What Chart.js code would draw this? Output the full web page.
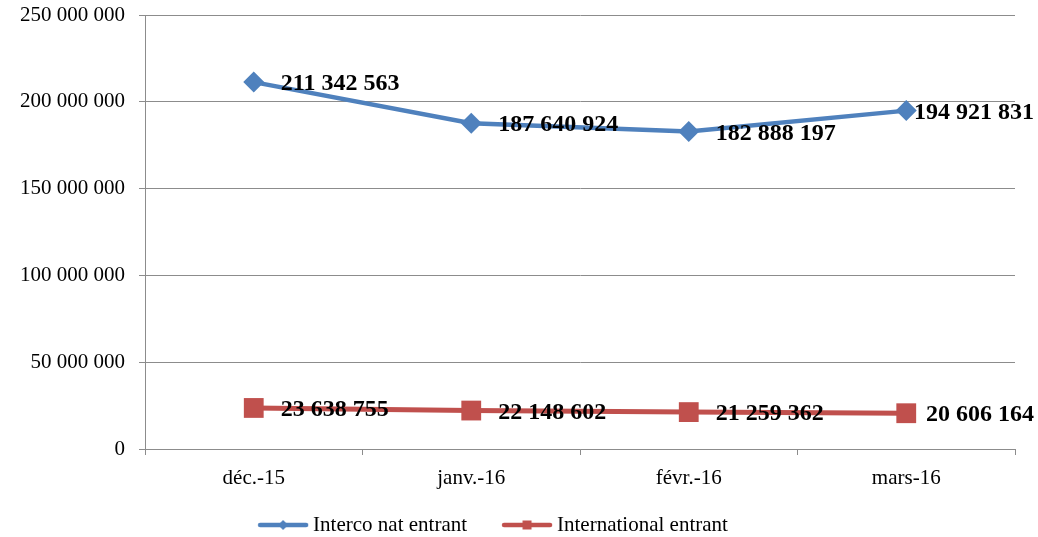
<!DOCTYPE html>
<html>
<head>
<meta charset="utf-8">
<script src="https://cdn.jsdelivr.net/npm/chart.js@4.4.1/dist/chart.umd.min.js"></script>
<style>
  html, body { margin: 0; padding: 0; background: #fff; }
  .wrap { width: 1038px; height: 537px; position: relative; }
</style>
</head>
<body>
<div class="wrap"><canvas id="c"></canvas></div>
<script>
const months = ['déc.-15', 'janv.-16', 'févr.-16', 'mars-16'];
const intercoNat = [211342563, 187640924, 182888197, 194921831];
const international = [23638755, 22148602, 21259362, 20606164];

const BLUE = '#4F81BD';
const RED = '#C0504D';
const GRID = '#8C8C8C';
const SERIF = "'Liberation Serif', 'DejaVu Serif', serif";

const fmt = v => String(Math.round(v)).replace(/\B(?=(\d{3})+(?!\d))/g, ' ');

// small line + marker icon used in the legend
function legendIcon(color, shape) {
  const c = document.createElement('canvas');
  c.width = 52; c.height = 16;
  const g = c.getContext('2d');
  g.strokeStyle = color; g.fillStyle = color;
  g.lineWidth = 4.5; g.lineCap = 'round';
  g.beginPath(); g.moveTo(3, 8); g.lineTo(49, 8); g.stroke();
  g.beginPath();
  if (shape === 'diamond') {
    g.moveTo(26, 3); g.lineTo(31, 8); g.lineTo(26, 13); g.lineTo(21, 8);
  } else {
    g.rect(21.5, 3.5, 9, 9);
  }
  g.closePath(); g.fill();
  return c;
}
const icons = [legendIcon(BLUE, 'diamond'), legendIcon(RED, 'square')];

// bold value labels to the right of each point
const valueLabels = {
  id: 'valueLabels',
  afterDatasetsDraw(chart) {
    const ctx = chart.ctx;
    ctx.save();
    ctx.font = 'bold 24px ' + SERIF;
    ctx.fillStyle = '#000';
    ctx.textBaseline = 'middle';
    ctx.textAlign = 'left';
    chart.data.datasets.forEach((ds, i) => {
      chart.getDatasetMeta(i).data.forEach((pt, j) => {
        const txt = fmt(ds.data[j]);
        const w = ctx.measureText(txt).width;
        let x = pt.x + 27;
        if (x + w > chart.width - 4) x = chart.width - 4 - w;
        ctx.fillText(txt, x, pt.y + 2);
      });
    });
    ctx.restore();
  }
};

// legend row under the x axis: line sample + marker, then the series name
const bottomLegend = {
  id: 'bottomLegend',
  afterDraw(chart) {
    const ctx = chart.ctx;
    ctx.save();
    ctx.font = '21px ' + SERIF;
    ctx.fillStyle = '#000';
    ctx.textBaseline = 'middle';
    ctx.textAlign = 'left';
    const names = chart.data.datasets.map(d => d.label);
    const widths = names.map(n => ctx.measureText(n).width);
    const total = widths.reduce((a, w) => a + 50 + 5 + w, 0) + 35 * (names.length - 1);
    let x = 493 - total / 2;
    const y = chart.height - 12;
    names.forEach((n, i) => {
      ctx.drawImage(icons[i], x - 1, y - 8);
      ctx.fillText(n, x + 55, y);
      x += 50 + 5 + widths[i] + 35;
    });
    ctx.restore();
  }
};

new Chart(document.getElementById('c'), {
  type: 'line',
  data: {
    labels: months,
    datasets: [
      {
        label: 'Interco nat entrant',
        data: intercoNat,
        borderColor: BLUE,
        backgroundColor: BLUE,
        borderWidth: 4.5,
        pointStyle: 'rectRot',
        pointRadius: 10.5,
        pointHoverRadius: 10.5,
        pointBorderWidth: 0,
        tension: 0
      },
      {
        label: 'International entrant',
        data: international,
        borderColor: RED,
        backgroundColor: RED,
        borderWidth: 5,
        pointStyle: 'rect',
        pointRadius: 14,
        pointHoverRadius: 14,
        pointBorderWidth: 0,
        tension: 0
      }
    ]
  },
  options: {
    responsive: true,
    maintainAspectRatio: false,
    animation: false,
    layout: { padding: { left: 0, right: 23, top: 15, bottom: 0 } },
    scales: {
      y: {
        min: 0,
        max: 250000000,
        ticks: {
          stepSize: 50000000,
          color: '#000',
          font: { family: SERIF, size: 21 },
          padding: 14,
          callback: v => fmt(v)
        },
        grid: { color: GRID, lineWidth: 1, tickLength: 6, tickColor: GRID },
        border: { color: GRID, width: 1 },
        afterFit: s => { s.width = 145; s.paddingTop = 0; s.paddingBottom = 0; }
      },
      x: {
        offset: true,
        ticks: {
          color: '#000',
          font: { family: SERIF, size: 21 },
          padding: 11
        },
        grid: { offset: true, drawOnChartArea: false, drawTicks: true, tickLength: 6, color: GRID },
        border: { color: GRID, width: 1 },
        afterFit: s => { s.height = 88; s.paddingLeft = 0; s.paddingRight = 0; }
      }
    },
    plugins: {
      tooltip: { enabled: false },
      legend: { display: false }
    }
  },
  plugins: [valueLabels, bottomLegend]
});
</script>
</body>
</html>
